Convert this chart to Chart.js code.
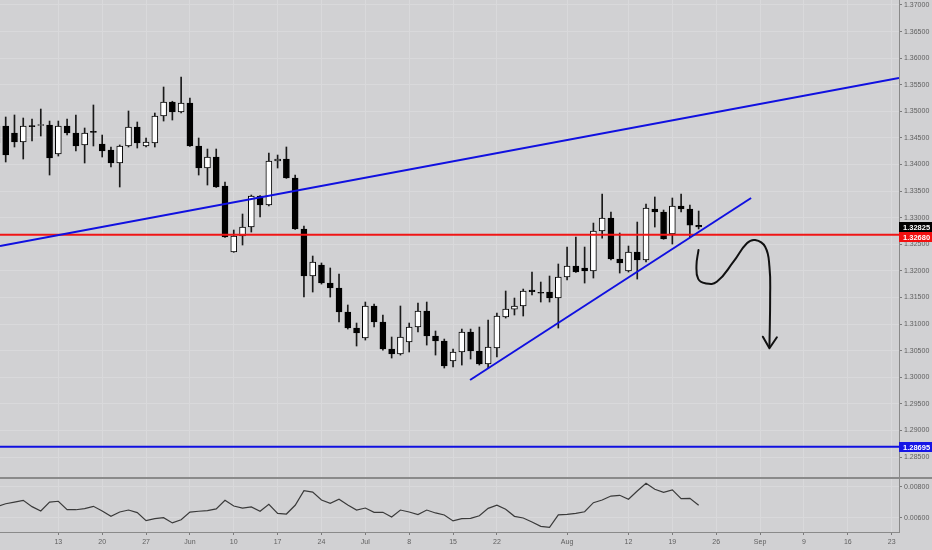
<!DOCTYPE html>
<html>
<head>
<meta charset="utf-8">
<script src="https://cdn.jsdelivr.net/npm/chart.js@4.4.1/dist/chart.umd.min.js"></script>
<style>
  html, body { margin: 0; padding: 0; background: #d1d1d3; }
  #wrap { position: relative; width: 932px; height: 550px; overflow: hidden; }
  canvas { position: absolute; left: 0; }
  #main { top: 0; }
  #osc { top: 477px; }
</style>
</head>
<body>
<div id="wrap">
  <canvas id="main" width="932" height="477"></canvas>
  <canvas id="osc" width="932" height="73"></canvas>
</div>
<script>
// USD/CAD daily, 2 May - 22 Aug 2019. x = trading days counted from Mon 13 May (= 0)
const firstDay = -7

const opens = [1.34725, 1.34725, 1.34593, 1.34424, 1.34725, 1.34735, 1.34743,
  1.34198, 1.34725, 1.34593, 1.34368, 1.34612, 1.34386, 1.34274, 1.34029, 1.34349, 1.34706,
  1.34349, 1.34405, 1.34913, 1.35176, 1.34988, 1.35157, 1.34349, 1.33935, 1.34142, 1.33597,
  1.32355, 1.32656, 1.32825, 1.33408, 1.33239, 1.34067, 1.34104, 1.33747, 1.32788, 1.31904,
  1.32111, 1.31772, 1.31678, 1.31227, 1.30926, 1.30738, 1.31340, 1.31039, 1.30531, 1.30437,
  1.30663, 1.30945, 1.31246, 1.30776, 1.30682, 1.30306, 1.30475, 1.30851, 1.30494, 1.30249,
  1.30550, 1.31133, 1.31283, 1.31340, 1.31641, 1.31584, 1.31603, 1.31490, 1.31885, 1.32092,
  1.32055, 1.31998, 1.32750, 1.32995, 1.32224, 1.31998, 1.32355, 1.32205, 1.33164, 1.33107,
  1.32694, 1.33220, 1.33164, 1.32855]
const highs = [1.34818, 1.34894, 1.34932, 1.34875, 1.34856, 1.35044, 1.34818,
  1.34818, 1.34856, 1.34932, 1.34687, 1.35120, 1.34555, 1.34330, 1.34368, 1.35007, 1.34800,
  1.34499, 1.34969, 1.35458, 1.35190, 1.35646, 1.35251, 1.34499, 1.34292, 1.34292, 1.33672,
  1.32769, 1.33070, 1.33427, 1.33415, 1.34217, 1.34179, 1.34330, 1.33803, 1.32844, 1.32280,
  1.32149, 1.32055, 1.31941, 1.31359, 1.31020, 1.31415, 1.31377, 1.31171, 1.30757, 1.31340,
  1.31020, 1.31396, 1.31415, 1.30870, 1.30719, 1.30531, 1.30907, 1.30907, 1.30945, 1.31077,
  1.31208, 1.31622, 1.31490, 1.31659, 1.31979, 1.31791, 1.31904, 1.32130, 1.32449, 1.32637,
  1.32449, 1.32900, 1.33446, 1.33107, 1.32713, 1.32468, 1.32919, 1.33258, 1.33390, 1.33145,
  1.33371, 1.33446, 1.33239, 1.33126]
const lows = [1.34255, 1.34048, 1.34330, 1.34104, 1.34443, 1.34537, 1.33803,
  1.34160, 1.34555, 1.34255, 1.34029, 1.34349, 1.34142, 1.33954, 1.33578, 1.34330, 1.34311,
  1.34330, 1.34330, 1.34818, 1.34837, 1.34969, 1.34340, 1.33803, 1.33615, 1.33570, 1.32630,
  1.32350, 1.32487, 1.32731, 1.33013, 1.33220, 1.33935, 1.33740, 1.32780, 1.31509, 1.31603,
  1.31753, 1.31509, 1.31039, 1.30907, 1.30588, 1.30700, 1.30945, 1.30512, 1.30362, 1.30418,
  1.30475, 1.30851, 1.30606, 1.30418, 1.30174, 1.30193, 1.30230, 1.30343, 1.30230, 1.30174,
  1.30381, 1.31114, 1.31171, 1.31152, 1.31547, 1.31415, 1.31415, 1.30926, 1.31829, 1.31970,
  1.31772, 1.31866, 1.32618, 1.32205, 1.31960, 1.31979, 1.31847, 1.32167, 1.32825, 1.32595,
  1.32506, 1.33107, 1.32637, 1.32788]
const closes = [1.34405, 1.34179, 1.34424, 1.34725, 1.34712, 1.34743, 1.34123,
  1.34725, 1.34593, 1.34349, 1.34593, 1.34605, 1.34255, 1.34029, 1.34349, 1.34706, 1.34405,
  1.34424, 1.34913, 1.35176, 1.34988, 1.35157, 1.34349, 1.33935, 1.34142, 1.33578, 1.32637,
  1.32656, 1.32825, 1.33408, 1.33239, 1.34067, 1.34104, 1.33747, 1.32788, 1.31904, 1.32167,
  1.31772, 1.31678, 1.31227, 1.30926, 1.30832, 1.31340, 1.31039, 1.30531, 1.30437, 1.30757,
  1.30945, 1.31246, 1.30776, 1.30682, 1.30212, 1.30475, 1.30851, 1.30494, 1.30249, 1.30569,
  1.31152, 1.31283, 1.31340, 1.31622, 1.31610, 1.31580, 1.31490, 1.31885, 1.32092, 1.31979,
  1.31998, 1.32750, 1.32995, 1.32224, 1.32149, 1.32355, 1.32205, 1.33183, 1.33107, 1.32600,
  1.33220, 1.33164, 1.32860, 1.32825]

// lower pane indicator
const atr = [0.00672, 0.00691, 0.00702, 0.00713, 0.00672, 0.00644, 0.00702,
  0.00707, 0.00652, 0.00652, 0.00659, 0.00674, 0.00644, 0.00609, 0.00637, 0.00650, 0.00633,
  0.00581, 0.00594, 0.00600, 0.00566, 0.00587, 0.00637, 0.00642, 0.00646, 0.00657, 0.00713,
  0.00676, 0.00663, 0.00670, 0.00642, 0.00687, 0.00628, 0.00624, 0.00681, 0.00776, 0.00767,
  0.00715, 0.00694, 0.00720, 0.00683, 0.00650, 0.00663, 0.00635, 0.00635, 0.00605, 0.00650,
  0.00637, 0.00620, 0.00650, 0.00631, 0.00618, 0.00579, 0.00594, 0.00596, 0.00613, 0.00661,
  0.00681, 0.00655, 0.00609, 0.00598, 0.00572, 0.00544, 0.00537, 0.00618, 0.00622, 0.00628,
  0.00639, 0.00698, 0.00715, 0.00741, 0.00746, 0.00720, 0.00774, 0.00824, 0.00785, 0.00765,
  0.00781, 0.00724, 0.00726, 0.00681]

// date axis
const weekDays = [0, 5, 10, 15, 20, 25, 30, 35, 40, 45, 50, 58, 65, 70, 75, 80, 85, 90, 95]
const weekLabels = ['13', '20', '27', 'Jun', '10', '17', '24', 'Jul', '8', '15', '22', 'Aug',
  '12', '19', '26', 'Sep', '9', '16', '23']
const priceTicks = [1.285, 1.290, 1.295, 1.300, 1.305, 1.310, 1.315, 1.320, 1.325, 1.330,
  1.335, 1.340, 1.345, 1.350, 1.355, 1.360, 1.365, 1.370]
const oscTicks = [0.006, 0.008]

// drawings: [day, price]
const upperLine = [[-6.65, 1.32468], [95.84, 1.35627]]
const risingLine = [[46.94, 1.29949], [78.98, 1.33371]]
const resistance = 1.3268
const support = 1.28695
const sketch = [[72.98, 1.32393], [72.75, 1.32100], [72.95, 1.31850], [73.74, 1.31767],
  [75.07, 1.31797], [76.97, 1.32173], [78.50, 1.32519], [79.44, 1.32581], [80.58, 1.32455],
  [81.07, 1.32079], [81.15, 1.31515], [81.07, 1.30575]]
const arrowHead = [[80.32, 1.30763], [81.07, 1.30545], [81.92, 1.30752]]

const xMin = -6.65, xMax = 95.84
const gridColor = '#d9d9db'
const axisColor = '#8a8a8a'

Chart.defaults.font.family = "'Liberation Sans', Arial, sans-serif"
Chart.defaults.font.size = 7
Chart.defaults.color = '#606060'

const pts = arr => arr.map(p => ({x: p[0], y: p[1]}))
const isUp = i => closes[i] >= opens[i]

function lineSet(data, color, width, extra) {
    return Object.assign({
        type: 'line', data: data, borderColor: color, borderWidth: width,
        pointRadius: 0, fill: false, tension: 0, order: 0
    }, extra || {})
}

const priceTags = {
    id: 'priceTags',
    afterDraw(chart) {
        const ctx = chart.ctx, y = chart.scales.y
        const left = chart.chartArea.right
        const tags = [
            {v: closes[closes.length - 1], bg: '#000000'},
            {v: resistance, bg: '#f21010'},
            {v: support, bg: '#1515e6'}
        ]
        let lastBottom = -Infinity
        ctx.save()
        ctx.font = "bold 7.5px 'Liberation Sans', Arial, sans-serif"
        ctx.textBaseline = 'middle'
        tags.forEach(t => {
            let top = Math.max(Math.round(y.getPixelForValue(t.v)) - 5, lastBottom)
            ctx.fillStyle = t.bg
            ctx.fillRect(left, top, chart.width - left, 10)
            ctx.fillStyle = '#ffffff'
            ctx.fillText(t.v.toFixed(5), left + 4, top + 5.5)
            lastBottom = top + 10
        })
        ctx.restore()
    }
}

const paneTop = {
    id: 'paneTop',
    afterDraw(chart) {
        const ctx = chart.ctx
        ctx.save()
        ctx.fillStyle = axisColor
        ctx.fillRect(0, 0, chart.width, 2)
        ctx.restore()
    }
}

new Chart('main', {
    type: 'bar',
    data: {
        datasets: [
            lineSet(pts(upperLine), '#1010e0', 2),
            lineSet(pts(risingLine), '#1010e0', 2),
            lineSet([{x: xMin, y: resistance}, {x: xMax, y: resistance}], '#f01515', 2),
            lineSet([{x: xMin, y: support}, {x: xMax, y: support}], '#1010e0', 2),
            lineSet(pts(sketch), '#111111', 2, {tension: 0.45, borderCapStyle: 'round', borderJoinStyle: 'round'}),
            lineSet(pts(arrowHead), '#111111', 2, {borderCapStyle: 'round', borderJoinStyle: 'round'}),
            {
                data: opens.map((o, i) => ({x: firstDay + i, y: [o, closes[i]]})),
                stack: 'candle', order: 1,
                barThickness: 6, minBarLength: 1,
                backgroundColor: ctx => isUp(ctx.dataIndex) ? '#ffffff' : '#000000',
                borderColor: '#000000', borderWidth: 1, borderSkipped: false
            },
            {
                data: lows.map((l, i) => ({x: firstDay + i, y: [l, highs[i]]})),
                stack: 'candle', order: 2,
                barThickness: 1, backgroundColor: '#1a1a1a', borderWidth: 0
            }
        ]
    },
    options: {
        responsive: false,
        animation: false,
        layout: {padding: 0},
        plugins: {legend: {display: false}, tooltip: {enabled: false}},
        scales: {
            x: {
                type: 'linear', min: xMin, max: xMax, offset: false,
                afterBuildTicks: s => { s.ticks = weekDays.map(v => ({value: v})) },
                afterFit: s => { s.height = 0; s.paddingLeft = 0; s.paddingRight = 0 },
                ticks: {display: false},
                grid: {color: gridColor, offset: false, drawTicks: false},
                border: {display: false}
            },
            y: {
                position: 'right', stacked: false, min: 1.28125, max: 1.37094,
                afterBuildTicks: s => { s.ticks = priceTicks.map(v => ({value: v})) },
                afterFit: s => { s.width = 33; s.paddingTop = 0; s.paddingBottom = 0 },
                ticks: {padding: 2, callback: v => v.toFixed(5)},
                grid: {color: gridColor, tickLength: 3, tickColor: '#7a7a7a'},
                border: {display: true, color: axisColor}
            }
        }
    },
    plugins: [priceTags]
})

new Chart('osc', {
    type: 'line',
    data: {
        datasets: [{
            data: atr.map((v, i) => ({x: firstDay + i, y: v})),
            borderColor: '#3a3a3a', borderWidth: 1.2, pointRadius: 0, tension: 0, fill: false
        }]
    },
    options: {
        responsive: false,
        animation: false,
        layout: {padding: 0},
        plugins: {legend: {display: false}, tooltip: {enabled: false}},
        scales: {
            x: {
                type: 'linear', min: xMin, max: xMax,
                afterBuildTicks: s => { s.ticks = weekDays.map(v => ({value: v})) },
                afterFit: s => { s.height = 18; s.paddingLeft = 0; s.paddingRight = 0 },
                ticks: {autoSkip: false, maxRotation: 0, padding: 3,
                    callback: v => weekLabels[weekDays.indexOf(v)]},
                grid: {color: gridColor, tickLength: 3, tickColor: '#7a7a7a'},
                border: {display: true, color: axisColor}
            },
            y: {
                position: 'right', min: 0.00507, max: 0.00865,
                afterBuildTicks: s => { s.ticks = oscTicks.map(v => ({value: v})) },
                afterFit: s => { s.width = 33; s.paddingTop = 0; s.paddingBottom = 0 },
                ticks: {padding: 2, callback: v => v.toFixed(5)},
                grid: {color: gridColor, tickLength: 3, tickColor: '#7a7a7a'},
                border: {display: true, color: axisColor}
            }
        }
    },
    plugins: [paneTop]
})
</script>
</body>
</html>
